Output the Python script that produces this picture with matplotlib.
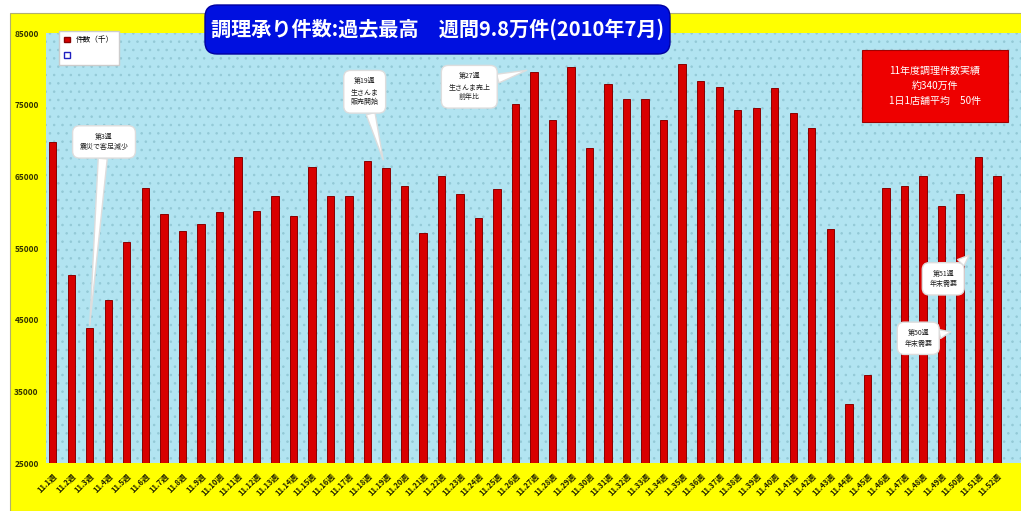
import matplotlib
matplotlib.use('Agg')
import matplotlib.pyplot as plt
from matplotlib.patches import Rectangle, FancyBboxPatch, Patch

plt.rcParams['font.family'] = ['Noto Sans CJK JP', 'DejaVu Sans']
plt.rcParams['hatch.linewidth'] = 0.6

# Weekly order counts, fiscal 2011 (week 1 .. week 52)
weeks = [f"11.{i}週" for i in range(1, 53)]
counts = [69800, 51200, 43900, 47700, 55900, 63400, 59700, 57400, 58400, 60000,
          67700, 60100, 62300, 59500, 66300, 62300, 62300, 67100, 66100, 63600,
          57100, 65000, 62600, 59200, 63200, 75100, 79600, 72900, 80200, 69000,
          77900, 75800, 75800, 72900, 80700, 78300, 77400, 74200, 74600, 77300,
          73800, 71700, 57600, 33200, 37300, 63400, 63600, 65100, 60800, 62500,
          67700, 65000]
y_ticks = [25000, 35000, 45000, 55000, 65000, 75000, 85000]

title = "調理承り件数:過去最高　週間9.8万件(2010年7月)"
summary = "11年度調理件数実績\n約340万件\n1日1店舗平均　50件"

# callouts: text, week it refers to
notes = [
    ("第3週\n震災で客足減少", 3),
    ("第19週\n生さんま\n販売開始", 19),
    ("第27週\n生さんま売上\n前年比", 27),
    ("第51週\n年末需要", 51),
    ("第50週\n年末需要", 50),
]

fig = plt.figure(figsize=(10.21, 5.11), dpi=100)
fig.patch.set_facecolor('white')

# yellow chart frame
fig.patches.append(Rectangle((0.10, 0), 10.11, 4.98, transform=fig.dpi_scale_trans,
                             facecolor='#ffff00', edgecolor='#b0b070', lw=0.8, zorder=-1))

ax = fig.add_axes([45.7 / 1021, 48 / 511, 1 - 45.7 / 1021, 430 / 511])
ax.set_zorder(1)
ax.set_facecolor('#b2e4f1')
ax.add_patch(Rectangle((0, 0), 1, 1, transform=ax.transAxes, facecolor='none',
                       edgecolor='#93c9d6', hatch='..', lw=0, zorder=0))

x = list(range(1, 53))
ax.bar(x, [c - 25000 for c in counts], bottom=25000, width=0.4,
       color='#d80000', edgecolor='#8a0000', linewidth=0.7, zorder=2)

ax.set_xlim(0.62, 53.3)
ax.set_ylim(25000, 85000)
ax.set_yticks(y_ticks)
ax.set_yticklabels([str(v) for v in y_ticks], fontsize=6, fontweight='bold', color='#333300')
ax.set_xticks(x)
ax.set_xticklabels(weeks, rotation=45, ha='right', rotation_mode='anchor',
                   fontsize=5.5, fontweight='bold', color='#222200')
ax.tick_params(axis='both', length=0)
ax.tick_params(axis='y', pad=5)
ax.tick_params(axis='x', pad=6)
for s in ax.spines.values():
    s.set_visible(False)

# legend
handles = [Patch(facecolor='#d80000', edgecolor='#8a0000'),
           Patch(facecolor='white', edgecolor='#2020c0')]
ax.legend(handles, ['件数（千）', ' '], loc='upper left', fontsize=5.5,
          bbox_to_anchor=(55 / 1021, 1 - 27 / 511), bbox_transform=fig.transFigure,
          fancybox=False, framealpha=1, edgecolor='#cccccc', handlelength=0.7,
          handleheight=0.7, borderpad=0.7, labelspacing=1.0)

# speech bubble callouts
positions = [((3.77, 69800), (3.0, 44200)),
             ((17.85, 76800), (18.85, 67300)),
             ((23.5, 77500), (26.6, 79800)),
             ((49.1, 50700), (50.5, 54000)),
             ((47.75, 42400), (49.5, 43300))]
for (txt, wk), (xy_text, xy) in zip(notes, positions):
    ax.annotate(txt, xy=xy, xytext=xy_text, ha='center', va='center',
                fontsize=5, color='#222222', zorder=5, linespacing=1.4,
                bbox=dict(boxstyle='round,pad=1.0', facecolor='white', edgecolor='#dddddd'),
                arrowprops=dict(arrowstyle='wedge,tail_width=1.3', facecolor='white',
                                edgecolor='#dddddd', shrinkA=0, shrinkB=0))

# title box
fig.patches.append(FancyBboxPatch((2.05, 4.57), 4.65, 0.49, transform=fig.dpi_scale_trans,
                                  boxstyle='round,pad=0,rounding_size=0.12',
                                  facecolor='#0010e0', edgecolor='#0000a0', lw=1, zorder=3))
fig.text(4.375 / 10.21, 4.815 / 5.11, title, ha='center', va='center', color='white',
         fontsize=14.5, fontweight='bold', zorder=4)

# summary box
fig.patches.append(Rectangle((8.62, 3.89), 1.46, 0.72, transform=fig.dpi_scale_trans,
                             facecolor='#ee0000', edgecolor='#a00000', lw=0.8, zorder=3))
fig.text(9.35 / 10.21, 4.25 / 5.11, summary, ha='center', va='center', color='white',
         fontsize=7.2, linespacing=1.6, zorder=4)

fig.savefig('out.png', dpi=100)
